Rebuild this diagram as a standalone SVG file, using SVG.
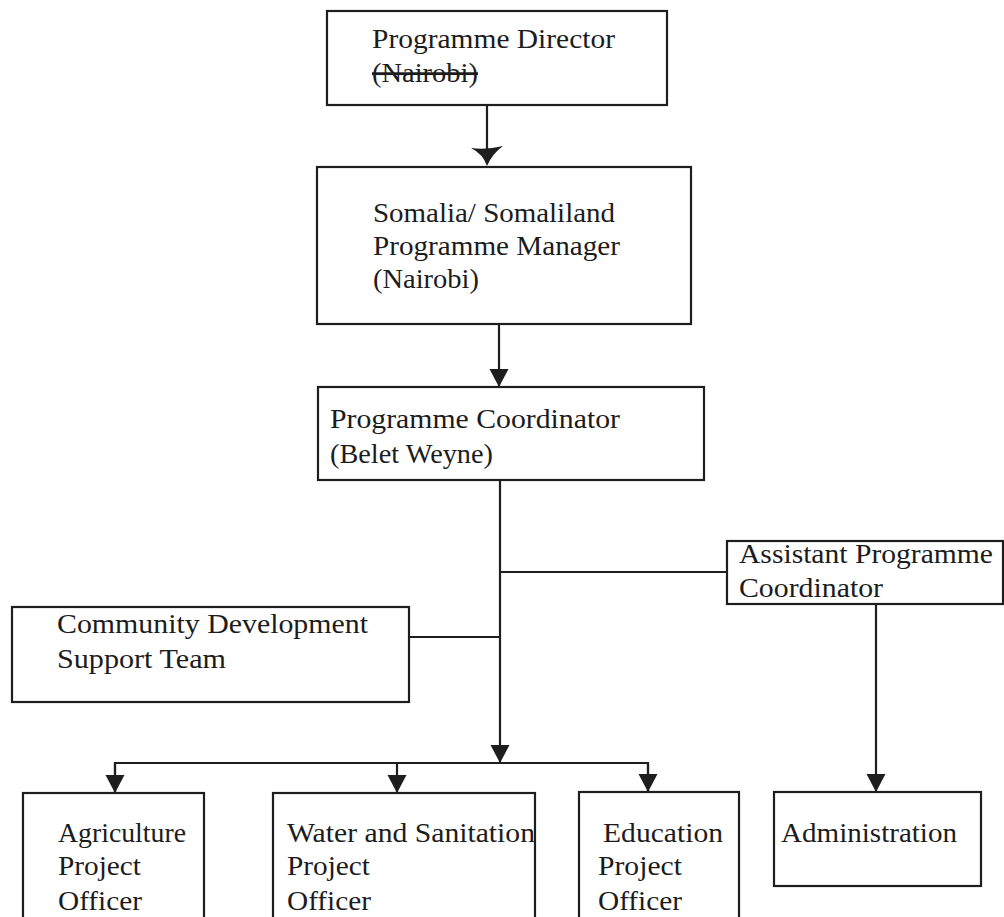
<svg xmlns="http://www.w3.org/2000/svg" width="1004" height="917" viewBox="0 0 1004 917">
<defs>
<style>
.box{fill:#fff;stroke:#1e1e1e;stroke-width:2.2}
.ln{fill:none;stroke:#1e1e1e;stroke-width:2.2}
.t{font-family:"Liberation Serif","DejaVu Serif",serif;font-size:28px;fill:#1c1c1c}
</style>
<marker id="ah" markerUnits="userSpaceOnUse" markerWidth="20" markerHeight="20" viewBox="0 0 20 20" refX="19" refY="10" orient="auto">
<path d="M1,0.5 L19,10 L1,19.5 Z" fill="#1e1e1e"/>
</marker>
</defs>
<rect width="1004" height="917" fill="#fff"/>
<g id="connectors">
<line class="ln" x1="487" y1="105" x2="487" y2="160"/>
<path d="M471,148 Q487,150 503,146 Q492,154 487,166 Q483,154 471,148 Z" fill="#1e1e1e"/>
<line class="ln" x1="499" y1="324" x2="499" y2="387" marker-end="url(#ah)"/>
<line class="ln" x1="500" y1="480" x2="500" y2="763" marker-end="url(#ah)"/>
<line class="ln" x1="500" y1="572" x2="727" y2="572"/>
<line class="ln" x1="409" y1="637" x2="500" y2="637"/>
<polyline class="ln" points="115,793 115,763 648,763 648,792"/>
<line class="ln" x1="115" y1="763" x2="115" y2="793" marker-end="url(#ah)"/>
<line class="ln" x1="397" y1="763" x2="397" y2="793" marker-end="url(#ah)"/>
<line class="ln" x1="648" y1="763" x2="648" y2="792" marker-end="url(#ah)"/>
<line class="ln" x1="876" y1="604" x2="876" y2="792" marker-end="url(#ah)"/>
</g>
<g id="director">
<rect class="box" x="327" y="11" width="340" height="94"/>
<text class="t" x="372" y="48" textLength="243" lengthAdjust="spacingAndGlyphs">Programme Director</text>
<text class="t" x="372" y="82" textLength="106" lengthAdjust="spacingAndGlyphs" text-decoration="line-through">(Nairobi)</text>
</g>
<g id="manager">
<rect class="box" x="317" y="167" width="374" height="157"/>
<text class="t" x="373" y="222" textLength="242" lengthAdjust="spacingAndGlyphs">Somalia/ Somaliland</text>
<text class="t" x="373" y="255" textLength="247" lengthAdjust="spacingAndGlyphs">Programme Manager</text>
<text class="t" x="373" y="288" textLength="106" lengthAdjust="spacingAndGlyphs">(Nairobi)</text>
</g>
<g id="coordinator">
<rect class="box" x="318" y="387" width="386" height="93"/>
<text class="t" x="330" y="428" textLength="290" lengthAdjust="spacingAndGlyphs">Programme Coordinator</text>
<text class="t" x="330" y="463" textLength="163" lengthAdjust="spacingAndGlyphs">(Belet Weyne)</text>
</g>
<g id="assistant">
<rect class="box" x="727" y="541" width="276" height="63"/>
<text class="t" x="739" y="563" textLength="254" lengthAdjust="spacingAndGlyphs">Assistant Programme</text>
<text class="t" x="739" y="597" textLength="144" lengthAdjust="spacingAndGlyphs">Coordinator</text>
</g>
<g id="community">
<rect class="box" x="12" y="607" width="397" height="95"/>
<text class="t" x="57" y="633" textLength="311" lengthAdjust="spacingAndGlyphs">Community Development</text>
<text class="t" x="57" y="668" textLength="169" lengthAdjust="spacingAndGlyphs">Support Team</text>
</g>
<g id="agriculture">
<rect class="box" x="23" y="793" width="181" height="140"/>
<text class="t" x="58" y="842" textLength="128" lengthAdjust="spacingAndGlyphs">Agriculture</text>
<text class="t" x="58" y="875" textLength="83" lengthAdjust="spacingAndGlyphs">Project</text>
<text class="t" x="58" y="910" textLength="84" lengthAdjust="spacingAndGlyphs">Officer</text>
</g>
<g id="water">
<rect class="box" x="273" y="793" width="262" height="140"/>
<text class="t" x="287" y="842" textLength="248" lengthAdjust="spacingAndGlyphs">Water and Sanitation</text>
<text class="t" x="287" y="875" textLength="83" lengthAdjust="spacingAndGlyphs">Project</text>
<text class="t" x="287" y="910" textLength="84" lengthAdjust="spacingAndGlyphs">Officer</text>
</g>
<g id="education">
<rect class="box" x="579" y="792" width="160" height="140"/>
<text class="t" x="603" y="842" textLength="120" lengthAdjust="spacingAndGlyphs">Education</text>
<text class="t" x="598" y="875" textLength="84" lengthAdjust="spacingAndGlyphs">Project</text>
<text class="t" x="598" y="910" textLength="84" lengthAdjust="spacingAndGlyphs">Officer</text>
</g>
<g id="administration">
<rect class="box" x="774" y="792" width="207" height="94"/>
<text class="t" x="781" y="842" textLength="176" lengthAdjust="spacingAndGlyphs">Administration</text>
</g>
</svg>
